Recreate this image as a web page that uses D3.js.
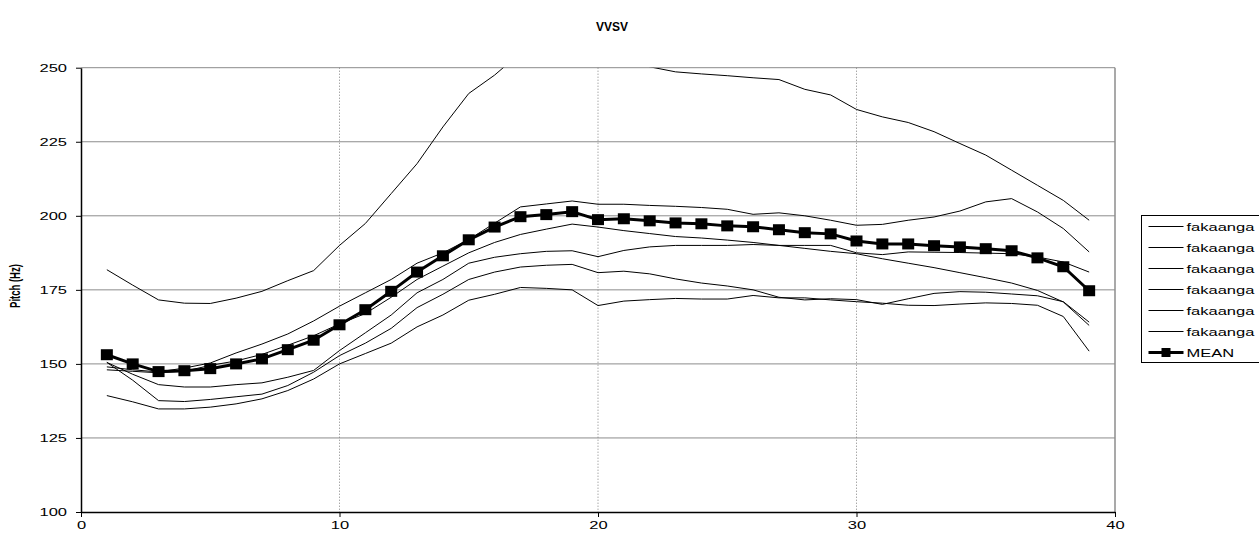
<!DOCTYPE html>
<html>
<head>
<meta charset="utf-8">
<script src="https://cdn.jsdelivr.net/npm/d3@7"></script>
<style>
  html, body { margin: 0; padding: 0; background: #fff; }
  svg { display: block; font-family: "Liberation Sans", Arial, sans-serif; }
</style>
</head>
<body>
<svg id="chart" width="1259" height="533"></svg>
<script>
// Sample index along the vowel sequence
const frames = [1,2,3,4,5,6,7,8,9,10,11,12,13,14,15,16,17,18,19,20,
                21,22,23,24,25,26,27,28,29,30,31,32,33,34,35,36,37,38,39];

// Pitch tracks (Hz) of the individual tokens
const fakaanga1 = [181.8,176.6,171.6,170.5,170.4,172.2,174.5,178.1,181.5,190,
                   197.4,207.5,217.6,230,241.3,247.5,255,256.5,258.5,255,
                   254,250.3,248.6,247.9,247.3,246.6,246,242.7,240.8,235.9,
                   233.4,231.5,228.4,224.4,220.5,215.4,210.3,205.2,198.5];
const fakaanga2 = [149,148,147.3,148.6,150.3,153.7,156.7,160.1,164.5,169.5,
                   174,178.5,184,187.5,192,197.5,203,204,205,203.9,
                   203.9,203.5,203.2,202.8,202.2,200.5,201,200,198.5,196.8,
                   197.1,198.5,199.6,201.6,204.7,205.8,201.3,195.7,187.8];
const fakaanga3 = [148,147.5,147,147.5,149.5,151,153.2,156.3,159.5,163.5,
                   167,172.5,178.5,183,187.5,191,193.7,195.5,197.2,196.2,
                   195,194,193,192.5,191.8,191,190,189,188,187.2,
                   185.5,184,182.5,180.8,179.1,177.3,174.8,170.9,163];
const fakaanga4 = [150.5,146.5,143,142.2,142.2,143,143.6,145.5,147.8,154.5,
                   160.5,166.5,174,178.5,184,186,187.2,188,188.2,186.2,
                   188.3,189.5,190,190,190,190.3,190,190,190,187.5,
                   186.9,187.8,187.7,187.6,187.4,187.2,186.1,184.4,181];
const fakaanga5 = [150.5,144.5,137.6,137.3,138,138.9,139.8,142.7,147.2,152.8,
                   157,162,169,173.5,178.5,181,182.7,183.3,183.6,180.8,
                   181.3,180.4,178.7,177.3,176.3,175,172.5,171.6,172,171.7,
                   170.1,172,173.8,174.4,174.2,173.6,173,171,164.1];
const fakaanga6 = [139.3,137.2,134.8,134.8,135.4,136.5,138.2,141,144.9,150,
                   153.5,157,162.5,166.5,171.5,173.5,175.8,175.5,175,169.7,
                   171.2,171.7,172.1,171.9,171.9,173.1,172.3,172.3,171.6,171,
                   170.5,169.8,169.7,170.2,170.6,170.4,169.8,166,154.3];

// Mean contour
const meanPitch = [153.1,150,147.4,147.7,148.4,150,151.7,154.8,158,163.2,
                   168.3,174.5,181,186.5,191.9,196.2,199.7,200.4,201.4,198.7,
                   199,198.3,197.6,197.3,196.6,196.3,195.3,194.3,193.9,191.5,
                   190.5,190.5,189.9,189.5,188.9,188.2,185.8,182.8,174.7];

// Legend labels
const seriesNames = ["fakaanga","fakaanga","fakaanga","fakaanga","fakaanga","fakaanga"];
const tokens = [fakaanga1, fakaanga2, fakaanga3, fakaanga4, fakaanga5, fakaanga6];

const yTicks = [100,125,150,175,200,225,250];
const xTicks = [0,10,20,30,40];

const svg = d3.select("#chart");

// Text in this chart is set in a wide, horizontally stretched face
const stretch = 1.5;

const plot = { left: 81, right: 1115, top: 67.7, bottom: 512 };
const x = d3.scaleLinear().domain([0, 40]).range([plot.left, plot.right]);
const y = d3.scaleLinear().domain([100, 250]).range([plot.bottom, plot.top]);

// Title
svg.append("text")
  .attr("transform", "translate(612,31)")
  .attr("text-anchor", "middle")
  .attr("font-size", 12).attr("font-weight", "bold")
  .text("VVSV");

// Horizontal gridlines
svg.append("g")
  .selectAll("line")
  .data(yTicks.filter(d => d > 100))
  .join("line")
  .attr("x1", plot.left).attr("x2", plot.right)
  .attr("y1", d => y(d)).attr("y2", d => y(d))
  .attr("stroke", "#8c8c8c").attr("stroke-width", 1);

// Vertical gridlines (dotted)
svg.append("g")
  .selectAll("line")
  .data(xTicks.filter(d => d > 0 && d < 40))
  .join("line")
  .attr("x1", d => x(d)).attr("x2", d => x(d))
  .attr("y1", plot.top).attr("y2", plot.bottom)
  .attr("stroke", "#808080").attr("stroke-width", 1)
  .attr("stroke-dasharray", "1,2");

// Right border
svg.append("line")
  .attr("x1", plot.right).attr("x2", plot.right)
  .attr("y1", plot.top).attr("y2", plot.bottom)
  .attr("stroke", "#8c8c8c").attr("stroke-width", 1.5);

// Clip region for the traces
svg.append("clipPath").attr("id", "plotClip")
  .append("rect")
  .attr("x", plot.left).attr("y", plot.top)
  .attr("width", plot.right - plot.left).attr("height", plot.bottom - plot.top);

const line = d3.line()
  .x((d, i) => x(frames[i]))
  .y(d => y(d));

const traces = svg.append("g").attr("clip-path", "url(#plotClip)");

traces.selectAll("path.token")
  .data(tokens)
  .join("path")
  .attr("class", "token")
  .attr("d", line)
  .attr("fill", "none")
  .attr("stroke", "#000")
  .attr("stroke-width", 1);

traces.append("path")
  .attr("d", line(meanPitch))
  .attr("fill", "none")
  .attr("stroke", "#000")
  .attr("stroke-width", 3);

const mkW = 12, mkH = 11;
traces.selectAll("rect.mean")
  .data(meanPitch)
  .join("rect")
  .attr("class", "mean")
  .attr("x", (d, i) => x(frames[i]) - mkW / 2)
  .attr("y", d => y(d) - mkH / 2)
  .attr("width", mkW).attr("height", mkH)
  .attr("fill", "#000");

// Axes
const yAxis = d3.axisLeft(y).tickValues(yTicks).tickSize(5).tickSizeOuter(0);
const xAxis = d3.axisBottom(x).tickValues(xTicks).tickSize(5).tickSizeOuter(0).tickPadding(4);

const gy = svg.append("g").attr("transform", `translate(${plot.left},0)`).call(yAxis);
const gx = svg.append("g").attr("transform", `translate(0,${plot.bottom})`).call(xAxis);

[gx, gy].forEach(g => {
  g.select(".domain").attr("stroke", "#000").attr("stroke-width", 1.5);
  g.selectAll(".tick line").attr("stroke", "#000");
  g.selectAll(".tick text")
    .attr("font-family", "'Liberation Sans', Arial, sans-serif")
    .attr("font-size", 11).attr("fill", "#000");
});
gy.selectAll(".tick text")
  .attr("x", 0)
  .attr("transform", `translate(-14,0) scale(${stretch},1)`);
gx.selectAll(".tick text")
  .attr("transform", `scale(${stretch},1)`);

// Y axis title
svg.append("text")
  .attr("transform", `translate(20,286) scale(${stretch},1) rotate(-90)`)
  .attr("text-anchor", "middle")
  .attr("font-size", 9.5).attr("font-weight", "bold")
  .text("Pitch (Hz)");

// Legend
const lg = svg.append("g");
const lgX = 1141.5, lgY = 215.5, rowH = 21;
lg.append("rect")
  .attr("x", lgX).attr("y", lgY)
  .attr("width", 140).attr("height", 147)
  .attr("fill", "#fff").attr("stroke", "#000").attr("stroke-width", 1);

const legendItems = seriesNames.map(n => ({ name: n, mean: false }))
  .concat([{ name: "MEAN", mean: true }]);

const rows = lg.selectAll("g.row")
  .data(legendItems)
  .join("g")
  .attr("class", "row")
  .attr("transform", (d, i) => `translate(0,${lgY + 11 + i * rowH})`);

rows.append("line")
  .attr("x1", lgX + 7).attr("x2", lgX + 42)
  .attr("y1", 0).attr("y2", 0)
  .attr("stroke", "#000")
  .attr("stroke-width", d => d.mean ? 3 : 1);

rows.filter(d => d.mean).append("rect")
  .attr("x", lgX + 24.5 - 4.5).attr("y", -4.5)
  .attr("width", 9).attr("height", 9)
  .attr("fill", "#000");

rows.append("text")
  .attr("transform", `translate(${lgX + 45},4) scale(${stretch},1)`)
  .attr("font-size", 11)
  .text(d => d.name);
</script>
</body>
</html>
